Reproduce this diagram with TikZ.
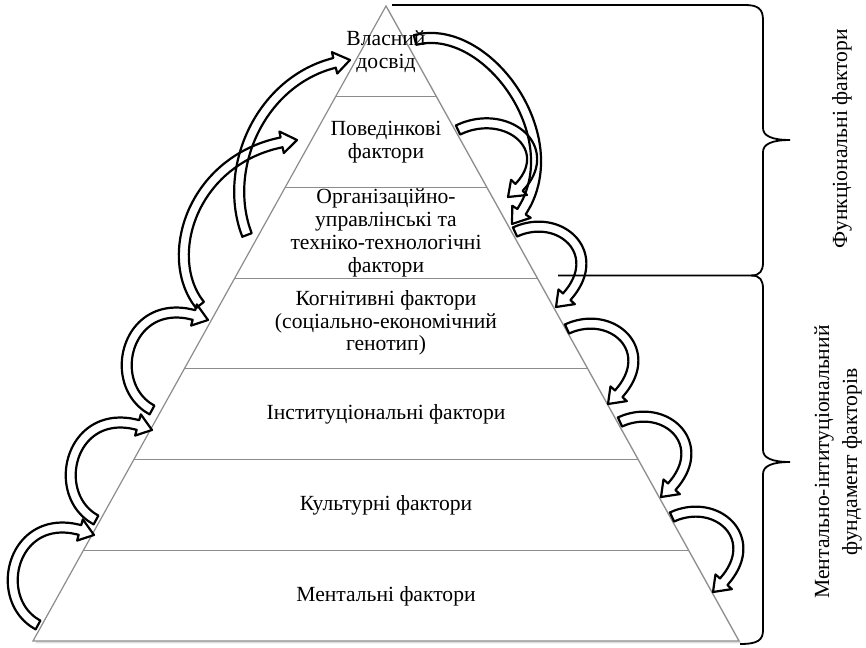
\documentclass[tikz,border=0pt]{standalone}
\usepackage{fontspec}
\setmainfont{Liberation Serif}
\usetikzlibrary{calc, shadows}

%% sizes of the hollow curved arrows (in pixel units of the picture)
\newcommand{\arrHeadLen}{16}
\newcommand{\arrHeadW}{11}
\newcommand{\arrBandW}{5}

%% hollow curved arrow along a cubic: tail, control 1, control 2, tip
\newcommand{\bentarrow}[8]{%
  \pgfmathsetmacro\arrTe{1-\arrHeadLen/(3*veclen((#7)-(#5),(#8)-(#6)))}%
  \pgfmathsetmacro\arrBx{bz(\arrTe,#1,#3,#5,#7)}%
  \pgfmathsetmacro\arrBy{bz(\arrTe,#2,#4,#6,#8)}%
  \pgfmathsetmacro\arrDx{dz(\arrTe,#1,#3,#5,#7)}%
  \pgfmathsetmacro\arrDy{dz(\arrTe,#2,#4,#6,#8)}%
  \pgfmathsetmacro\arrNx{-(\arrDy)/veclen(\arrDx,\arrDy)}%
  \pgfmathsetmacro\arrNy{(\arrDx)/veclen(\arrDx,\arrDy)}%
  \def\arrX{bz(\t,#1,#3,#5,#7)}%
  \def\arrY{bz(\t,#2,#4,#6,#8)}%
  \def\arrU{dz(\t,#1,#3,#5,#7)}%
  \def\arrV{dz(\t,#2,#4,#6,#8)}%
  \draw[bent]
    plot[edgeplot, domain=0:\arrTe]
      ({\arrX-\arrBandW*\arrV/veclen(\arrU,\arrV)},{\arrY+\arrBandW*\arrU/veclen(\arrU,\arrV)})
    -- ({\arrBx+\arrHeadW*(\arrNx)},{\arrBy+\arrHeadW*(\arrNy)})
    -- (#7,#8)
    -- ({\arrBx-\arrHeadW*(\arrNx)},{\arrBy-\arrHeadW*(\arrNy)})
    -- plot[edgeplot, domain=\arrTe:0]
      ({\arrX+\arrBandW*\arrV/veclen(\arrU,\arrV)},{\arrY-\arrBandW*\arrU/veclen(\arrU,\arrV)})
    -- cycle;
}

\begin{document}
\begin{tikzpicture}[
    x=0.5pt, y=-0.5pt,
    declare function={
      bz(\zt,\za,\zb,\zc,\zd)=(1-\zt)^3*\za+3*(1-\zt)^2*\zt*\zb+3*(1-\zt)*\zt^2*\zc+\zt^3*\zd;
      dz(\zt,\za,\zb,\zc,\zd)=3*(1-\zt)^2*(\zb-\za)+6*(1-\zt)*\zt*(\zc-\zb)+3*\zt^2*(\zd-\zc);
    },
    pyramid/.style  = {fill=white, draw=black!45, line width=0.6pt,
                       drop shadow={opacity=0.25, shadow xshift=1.2pt, shadow yshift=-1.2pt}},
    layer/.style    = {draw=black!45, line width=0.6pt},
    ltext/.style    = {align=center, inner sep=0pt,
                       font=\fontsize{10.8}{11.4}\selectfont},
    sidetext/.style = {align=center, inner sep=0pt, rotate=90,
                       font=\fontsize{10.8}{14}\selectfont},
    bracket/.style  = {draw=black, line width=0.9pt},
    bent/.style     = {draw=black, line width=1.1pt, line join=round},
    edgeplot/.style = {variable=\t, samples=25, smooth},
]
\useasboundingbox (0,0) rectangle (866,647);

%% ============================================================
%% PYRAMID
%% ============================================================
\coordinate (apex) at (386,6);
\coordinate (bl)   at (33,641);
\coordinate (br)   at (739,641);

\draw[pyramid] (apex) -- (bl) -- (br) -- cycle;
\foreach \k in {1,...,6}
  \draw[layer] ($(apex)!\k/7!(bl)$) -- ($(apex)!\k/7!(br)$);

\node[ltext] (exper) at (386,52)  {Власний\\досвід};
\node[ltext] (behav) at (386,142) {Поведінкові\\фактори};
\node[ltext] (org)   at (386,233) {Організаційно-\\управлінські та\\техніко-технологічні\\фактори};
\node[ltext] (cogn)  at (386,323) {Когнітивні фактори\\(соціально-економічний\\генотип)};
\node[ltext] (inst)  at (386,414) {Інституціональні фактори};
\node[ltext] (cult)  at (386,505) {Культурні фактори};
\node[ltext] (ment)  at (386,596) {Ментальні фактори};

%% ============================================================
%% CURVED ARROWS
%% ============================================================

%% left side, upwards
\bentarrow{38}{625}{-12}{598}{15}{500}{94}{535}
\bentarrow{96}{520}{46}{493}{73}{395}{152}{430}
\bentarrow{152}{410}{102}{383}{129}{285}{208}{320}
\bentarrow{200}{305}{160}{255}{195}{150}{297}{140}
\bentarrow{247}{235}{220}{165}{265}{70}{350}{60}

%% right side, downwards
\bentarrow{415}{40}{490}{20}{580}{150}{512}{224}
\bentarrow{458}{130}{510}{105}{565}{155}{508}{197}
\bentarrow{515}{232}{563}{210}{613}{260}{556}{307}
\bentarrow{567}{329}{615}{307}{665}{357}{608}{404}
\bentarrow{620}{422}{668}{400}{718}{450}{661}{497}
\bentarrow{672}{517}{720}{495}{770}{545}{713}{592}

%% ============================================================
%% BRACES
%% ============================================================
\draw[bracket] (392,5) -- (745,5) .. controls (758,5) and (763,9) .. (763,20)
  -- (763,128) .. controls (763,136) and (772,140) .. (790,140)
  .. controls (772,140) and (763,144) .. (763,152)
  -- (763,262) .. controls (763,271) and (760,275.5) .. (751,275.5) -- (558,275.5);
\draw[bracket] (751,275.5) .. controls (760,275.5) and (763,280) .. (763,289)
  -- (763,450) .. controls (763,458) and (772,462) .. (790,462)
  .. controls (772,462) and (763,466) .. (763,474)
  -- (763,630) .. controls (763,640) and (758,644) .. (740,644);

\node[sidetext] (func)  at (842,139) {Функціональні фактори};
\node[sidetext] (found) at (838,462) {Ментально-інтитуціональний\\фундамент факторів};

\end{tikzpicture}
\end{document}
